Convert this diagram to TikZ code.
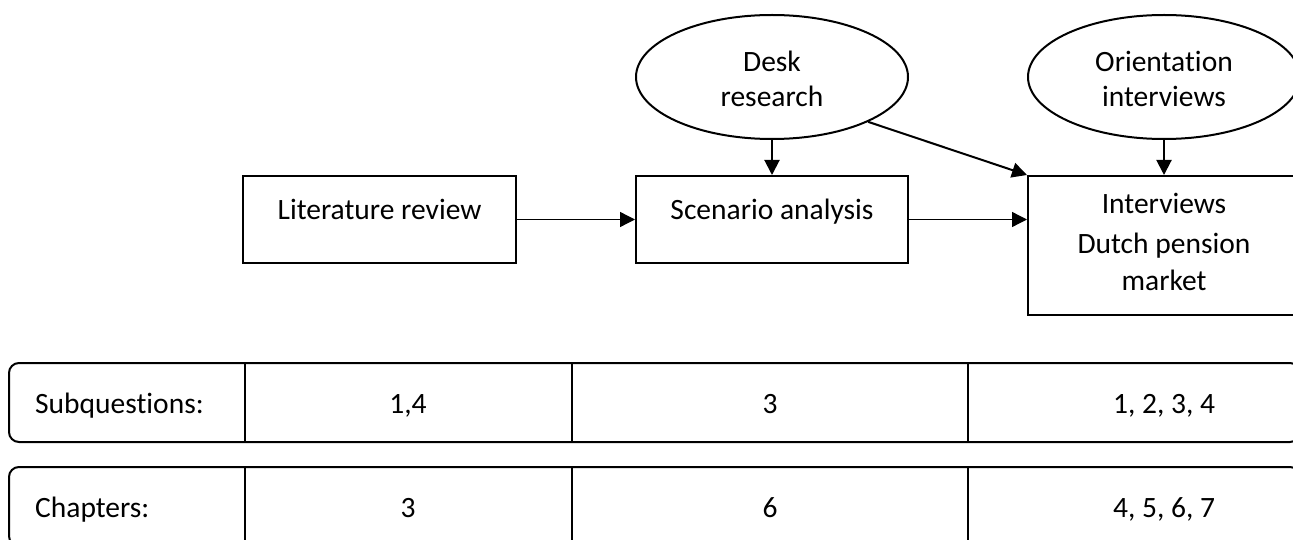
\documentclass[tikz,border=0pt]{standalone}
\usepackage{fontspec}
\setmainfont[Ligatures={NoCommon}]{Carlito}
\usetikzlibrary{arrows.meta,shapes.geometric}
\begin{document}
\begin{tikzpicture}[x=1pt,y=-1pt,
  box/.style={draw,line width=2pt,inner sep=0pt,rectangle},
  oval/.style={draw,line width=2pt,ellipse,inner sep=0pt},
  txt/.style={inner sep=0pt,anchor=base,font=\fontsize{29.5}{38}\selectfont},
  thinarrow/.style={line width=1.3pt,-{Triangle[length=15pt,width=15pt]}},
  thickarrow/.style={line width=2pt,-{Triangle[length=15pt,width=15pt]}},
  rowbox/.style={draw,line width=2pt,rounded corners=10pt,inner sep=0pt,rectangle},
  rule/.style={line width=2pt}]
\useasboundingbox (0,0) rectangle (1293,540);
\clip (0,0) rectangle (1293,540);

% boxes
\node[box,minimum width=273pt,minimum height=87pt] (lit) at (379.5,219.5) {};
\node[box,minimum width=272pt,minimum height=87pt] (scen) at (772,219.5) {};
\node[box,minimum width=272pt,minimum height=139pt] (int) at (1164,245.5) {};
\node[oval,minimum width=272pt,minimum height=124pt] (desk) at (772,77) {};
\node[oval,minimum width=272pt,minimum height=124pt] (orient) at (1164,77) {};

% texts
\node[txt] (litT) at (379.5,219) {Literature review};
\node[txt] (scenT) at (772,219) {Scenario analysis};
\node[txt] (intA) at (1164,214) {Interviews};
\node[txt] (intB) at (1164,253) {Dutch pension};
\node[txt] (intC) at (1164,290) {market};
\node[txt] (deskA) at (772,72) {Desk};
\node[txt] (deskB) at (772,107) {research};
\node[txt] (orA) at (1164,72) {Orientation};
\node[txt] (orB) at (1164,107) {interviews};

% connectors
\draw[thinarrow] (lit.east) -- (scen.west);
\draw[thinarrow] (scen.east) -- (scen.east -| int.west);
\draw[thickarrow] (desk.south) -- (scen.north);
\draw[thickarrow] (desk.-25) -- (int.north west);
\draw[thickarrow] (orient.south) -- (int.north);

% table rows
\node[rowbox,minimum width=1291pt,minimum height=79pt] (rowA) at (654.5,402.5) {};
\node[rowbox,minimum width=1291pt,minimum height=79pt] (rowB) at (654.5,506.5) {};
\foreach \xx in {245,572,968}{
  \draw[rule] (rowA.north -| \xx,0) -- (rowA.south -| \xx,0);
  \draw[rule] (rowB.north -| \xx,0) -- (rowB.south -| \xx,0);
}
\node[txt,anchor=base west] (sq) at (35,413) {Subquestions:};
\node[txt] (sq1) at (408,413) {1,4};
\node[txt] (sq2) at (770,413) {3};
\node[txt] (sq3) at (1164,413) {1, 2, 3, 4};
\node[txt,anchor=base west] (ch) at (35,517) {Chapters:};
\node[txt] (ch1) at (408,517) {3};
\node[txt] (ch2) at (770,517) {6};
\node[txt] (ch3) at (1164,517) {4, 5, 6, 7};
\end{tikzpicture}
\end{document}
